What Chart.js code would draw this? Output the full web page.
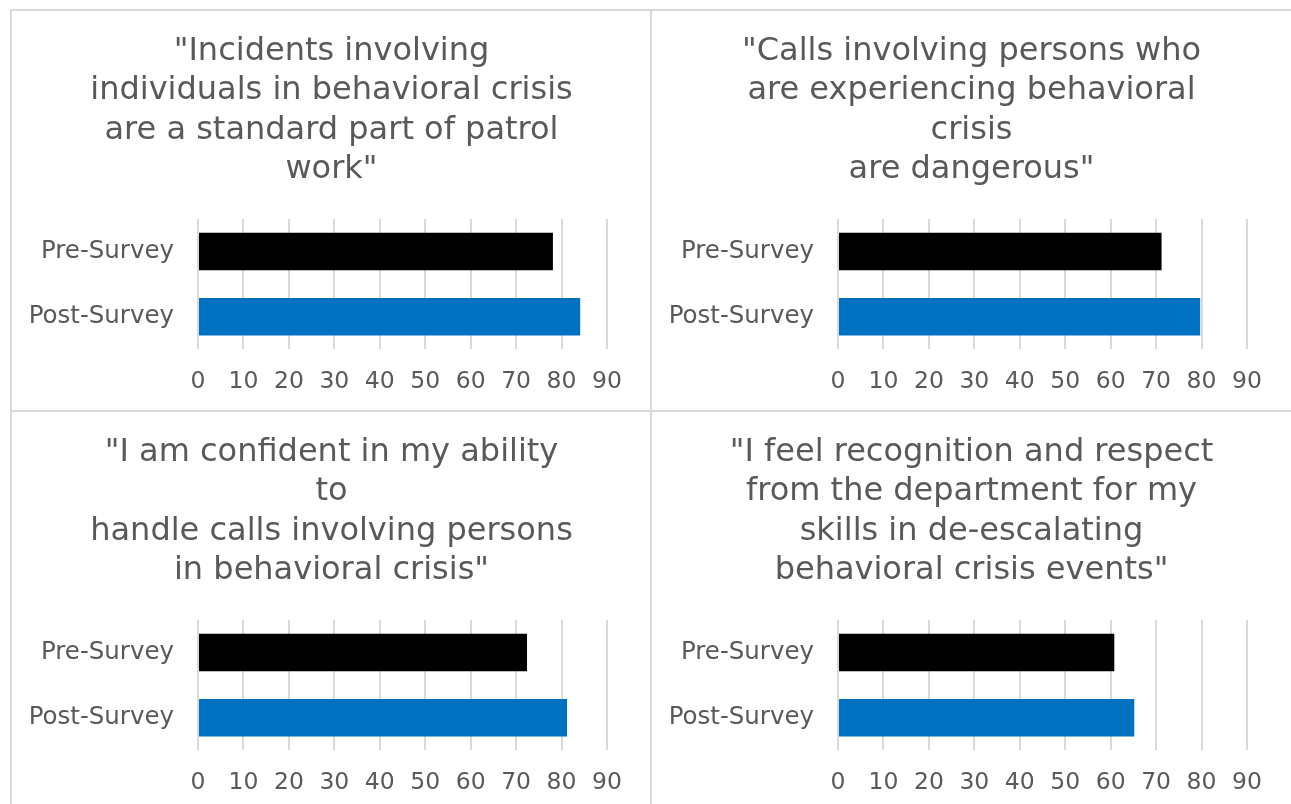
<!DOCTYPE html>
<html>
<head>
<meta charset="utf-8">
<script src="https://cdn.jsdelivr.net/npm/chart.js@4.4.1/dist/chart.umd.min.js"></script>
<style>
  html, body { margin: 0; padding: 0; background: #ffffff; overflow: hidden; width: 1291px; height: 804px; }
  .panel { position: absolute; box-sizing: border-box; width: 641px; height: 402px;
           border-top: 2px solid #d9d9d9; border-left: 2px solid #d9d9d9; overflow: hidden; background: #fff; }
  .panel canvas { display: block; }
</style>
</head>
<body>
<div class="panel" style="left:10px; top:9px;"><canvas id="c0" width="639" height="403"></canvas></div>
<div class="panel" style="left:650px; top:9px;"><canvas id="c1" width="639" height="403"></canvas></div>
<div class="panel" style="left:10px; top:410px;"><canvas id="c2" width="639" height="403"></canvas></div>
<div class="panel" style="left:650px; top:410px;"><canvas id="c3" width="639" height="403"></canvas></div>
<script>
// ---- Data ----
const categories = ['Pre-Survey', 'Post-Survey'];
const preValues  = [78.1, 71.2, 72.4, 60.8];
const postValues = [84.1, 79.7, 81.2, 65.2];
const xTickValues = [0, 10, 20, 30, 40, 50, 60, 70, 80, 90];
const titles = [
  ['"Incidents involving', 'individuals in behavioral crisis', 'are a standard part of patrol', 'work"'],
  ['"Calls involving persons who', 'are experiencing behavioral', 'crisis', 'are dangerous"'],
  ['"I am confident in my ability', 'to', 'handle calls involving persons', 'in behavioral crisis"'],
  ['"I feel recognition and respect', 'from the department for my', 'skills in de-escalating', 'behavioral crisis events"']
];
const barColors = ['#000000', '#0070C0'];

const FONT = "'DejaVu Sans', Verdana, sans-serif";
const textColor = '#595959';

titles.forEach((t, i) => {
  new Chart(document.getElementById('c' + i), {
    type: 'bar',
    data: {
      labels: categories,
      datasets: [{
        data: [preValues[i], postValues[i]],
        backgroundColor: barColors,
        borderWidth: 0,
        categoryPercentage: 1,
        barPercentage: 0.576
      }]
    },
    options: {
      indexAxis: 'y',
      responsive: false,
      animation: false,
      devicePixelRatio: 1,
      layout: { padding: { left: 0, right: 0, top: 0, bottom: 0 } },
      plugins: {
        legend: { display: false },
        tooltip: { enabled: false },
        title: {
          display: true,
          text: t,
          color: textColor,
          font: { family: FONT, size: 32, weight: 'normal', lineHeight: 1.23 },
          padding: { top: 21, bottom: 29.5 }
        }
      },
      scales: {
        x: {
          min: xTickValues[0],
          max: xTickValues[xTickValues.length - 1],
          afterBuildTicks: (scale) => { scale.ticks = xTickValues.map(v => ({ value: v })); },
          grid: { color: '#d9d9d9', lineWidth: 2, drawTicks: false },
          border: { display: false },
          ticks: { color: textColor, font: { family: FONT, size: 23.5, lineHeight: 1.2 }, padding: 18.2, maxRotation: 0, autoSkip: false }
        },
        y: {
          grid: { display: false, drawTicks: false },
          border: { display: false },
          afterFit: (scale) => { scale.width = 186; },
          ticks: { color: textColor, font: { family: FONT, size: 24.5 }, padding: 24 }
        },
        rightSpace: {
          type: 'linear',
          position: 'right',
          display: true,
          grid: { display: false, drawTicks: false },
          border: { display: false },
          ticks: { display: false },
          afterFit: (scale) => { scale.width = 44; }
        }
      }
    }
  });
});
</script>
</body>
</html>
